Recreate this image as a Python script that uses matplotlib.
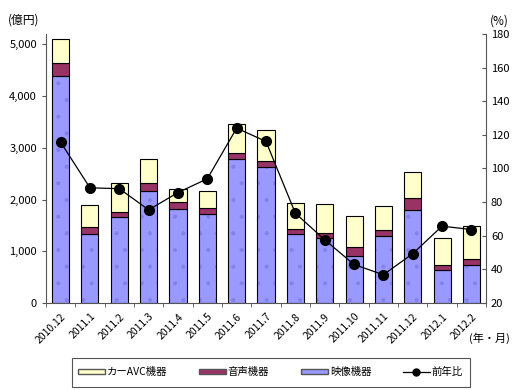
import numpy as np
import matplotlib
matplotlib.use('Agg')
import matplotlib.pyplot as plt
from matplotlib.lines import Line2D
from matplotlib.patches import Patch, Rectangle

plt.rcParams['font.family'] = ['Noto Sans CJK JP', 'DejaVu Sans']
plt.rcParams['hatch.linewidth'] = 0.5

# データ（億円 / %）
months = ['2010.12', '2011.1', '2011.2', '2011.3', '2011.4', '2011.5', '2011.6', '2011.7',
          '2011.8', '2011.9', '2011.10', '2011.11', '2011.12', '2012.1', '2012.2']
video = [4391, 1329, 1663, 2172, 1812, 1725, 2778, 2625, 1335, 1250, 915, 1296, 1799, 638, 741]
audio = [257, 141, 97, 155, 148, 116, 116, 122, 96, 110, 162, 110, 226, 97, 110]
car_avc = [465, 426, 555, 464, 245, 319, 561, 599, 509, 561, 606, 470, 503, 515, 632]
yoy = [115.6, 88.5, 88.0, 75.4, 85.7, 93.9, 124.0, 116.1, 73.4, 57.6, 42.9, 36.8, 49.3, 65.7, 63.7]

col_video = '#9999FF'
col_audio = '#993366'
col_car = '#FFFFCC'

fig = plt.figure(figsize=(5.28, 3.9), dpi=100)
ax = fig.add_axes([0.0871, 0.2231, 0.8334, 0.6897])

x = np.arange(len(months))
w = 0.58
video = np.array(video)
audio = np.array(audio)
car_avc = np.array(car_avc)
# 映像機器（ドット模様）
ax.bar(x, video, w, color=col_video, edgecolor='#8282ec', hatch='.', linewidth=0, zorder=2)
ax.bar(x, video, w, fill=False, edgecolor='black', linewidth=0.8, zorder=2)
ax.bar(x, audio, w, bottom=video, color=col_audio, edgecolor='black', linewidth=0.8, zorder=2)
ax.bar(x, car_avc, w, bottom=video + audio, color=col_car, edgecolor='black', linewidth=0.8, zorder=2)

ax.set_xlim(-0.5, len(months) - 0.5)
ax.set_ylim(0, 5200)
ax.set_yticks(range(0, 5001, 1000))
ax.set_yticklabels([f'{v:,}' for v in range(0, 5001, 1000)], fontsize=8)
ax.set_xticks(x)
ax.set_xticklabels(months, rotation=45, ha='right', rotation_mode='anchor', fontsize=7.5)
ax.tick_params(axis='x', length=0, pad=6)
ax.set_xticks(np.arange(-0.5, len(months), 1), minor=True)
ax.tick_params(axis='x', which='minor', length=3, direction='out', color='#555555')
ax.tick_params(axis='y', length=3, direction='out', color='#555555')
ax.spines['top'].set_visible(False)
ax.spines['right'].set_visible(False)
for s in ['left', 'bottom']:
    ax.spines[s].set_color('#555555')

ax2 = ax.twinx()
ax2.plot(x, yoy, color='black', linewidth=0.9, marker='o', markersize=7, zorder=3)
ax2.set_ylim(20, 180)
ax2.set_yticks(range(20, 181, 20))
ax2.tick_params(axis='y', labelsize=8, length=3, direction='in', color='#555555')
ax2.spines['top'].set_visible(False)
ax2.spines['left'].set_visible(False)
ax2.spines['bottom'].set_visible(False)
ax2.spines['right'].set_color('#555555')

fig.text(0.015, 0.948, '(億円)', fontsize=8.5, va='center', ha='left')
fig.text(0.945, 0.945, '(%)', fontsize=8.5, va='center', ha='center')
fig.text(0.965, 0.133, '(年・月)', fontsize=8, va='center', ha='right')

# 凡例の枠
fig.patches.append(Rectangle((72 / 528, 3 / 390), 398 / 528, 29 / 390, transform=fig.transFigure,
                             facecolor='white', edgecolor='#555555', linewidth=0.8, zorder=1))

handles = [Patch(facecolor=col_car, edgecolor='#555555', label='カーAVC機器'),
           Patch(facecolor=col_audio, edgecolor='#555555', label='音声機器'),
           Patch(facecolor=col_video, edgecolor='#555555', label='映像機器'),
           Line2D([0], [0], color='black', marker='o', markersize=5, linewidth=0.9, label='前年比')]
fig.legend(handles=handles, loc='center', bbox_to_anchor=(0.512, 0.045), ncol=4,
           fontsize=7.5, frameon=False, handlelength=2.6, handleheight=0.35,
           handletextpad=0.2, columnspacing=3.0)

fig.savefig('out.png', dpi=100)
